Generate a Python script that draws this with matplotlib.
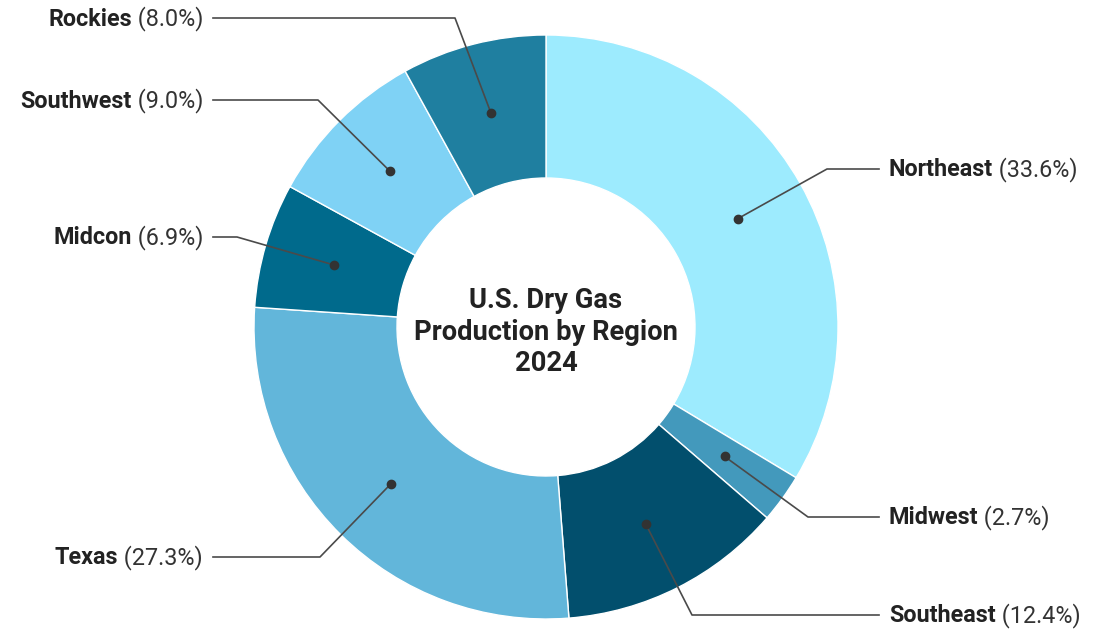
import matplotlib.pyplot as plt
import numpy as np

plt.rcParams['font.family'] = ['Roboto', 'DejaVu Sans']

regions = ['Northeast', 'Midwest', 'Southeast', 'Texas', 'Midcon', 'Southwest', 'Rockies']
shares = [33.6, 2.7, 12.4, 27.3, 6.9, 9.0, 8.0]
colors = ['#9debfe', '#4399bc', '#024f6d', '#62b6da', '#006a8c', '#7fd2f5', '#1f7fa0']
title = 'U.S. Dry Gas\nProduction by Region\n2024'

# label placement in pixel coords (y measured from top): side, label y, elbow x
label_layout = {
    'Northeast': ('right', 169, 827),
    'Midwest': ('right', 517, 808),
    'Southeast': ('right', 615, 692),
    'Texas': ('left', 557, 320),
    'Midcon': ('left', 237, 237),
    'Southwest': ('left', 100, 318),
    'Rockies': ('left', 18, 455),
}

W, H = 1109, 630
cx, cy = 546, H - 327
r_out, r_in = 292, 149
fs = 16.8

fig = plt.figure(figsize=(W / 100, H / 100), dpi=100)
ax = fig.add_axes([0, 0, 1, 1])
wedges, _ = ax.pie(shares, colors=colors, center=(cx, cy), radius=r_out,
                   startangle=90, counterclock=False,
                   wedgeprops=dict(width=r_out - r_in, edgecolor='white', linewidth=1))
ax.set_xlim(0, W)
ax.set_ylim(0, H)
ax.set_aspect('equal')
ax.axis('off')

ax.text(cx, cy - 5, title, ha='center', va='center', fontsize=19.7,
        fontweight='bold', color='#222222', linespacing=1.2)

renderer = fig.canvas.get_renderer()
r_mid = (r_out + r_in) / 2
line_col = '#4a4a4a'

for w, name, val in zip(wedges, regions, shares):
    ang = np.deg2rad((w.theta1 + w.theta2) / 2)
    dx, dy = cx + r_mid * np.cos(ang), cy + r_mid * np.sin(ang)
    side, ly, ex = label_layout[name]
    ly = H - ly
    ty = ly - 1
    ax.plot([dx], [dy], 'o', color='#333333', ms=6, zorder=5)
    pct = f' ({val:.1f}%)'
    if side == 'right':
        ax.plot([dx, ex, 879], [dy, ly, ly], color=line_col, lw=1.2, zorder=4)
        t = ax.text(889, ty, name, ha='left', va='center', fontsize=fs,
                    fontweight='bold', color='#222222')
        bb = t.get_window_extent(renderer)
        ax.text(bb.x1, ty, pct, ha='left', va='center', fontsize=fs, color='#333333')
    else:
        ax.plot([dx, ex, 213], [dy, ly, ly], color=line_col, lw=1.2, zorder=4)
        t = ax.text(203, ty, pct, ha='right', va='center', fontsize=fs, color='#333333')
        bb = t.get_window_extent(renderer)
        ax.text(bb.x0, ty, name, ha='right', va='center', fontsize=fs,
                fontweight='bold', color='#222222')

fig.savefig('out.png', dpi=100, facecolor='white')
